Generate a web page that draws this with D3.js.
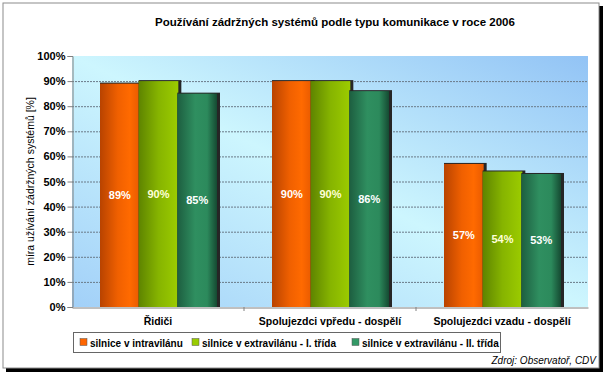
<!DOCTYPE html>
<html>
<head>
<meta charset="utf-8">
<script src="https://cdn.jsdelivr.net/npm/d3@7"></script>
<style>
  body { margin: 0; background: #fff; }
  svg text { font-family: "Liberation Sans", Arial, sans-serif; }
</style>
</head>
<body>
<div id="chart"></div>
<script>
// data
var categories = ["Řidiči", "Spolujezdci vpředu - dospělí", "Spolujezdci vzadu - dospělí"]
var seriesNames = ["silnice v intravilánu", "silnice v extravilánu - I. třída", "silnice v extravilánu - II. třída"]
var intravilan = [89, 90, 57]
var extravilan1 = [90, 90, 54]
var extravilan2 = [85, 86, 53]
var yTicks = [0, 10, 20, 30, 40, 50, 60, 70, 80, 90, 100]

var seriesValues = [intravilan, extravilan1, extravilan2]
var seriesKeys = ["orange", "green", "teal"]
var legendColors = ["#ff6600", "#99cc00", "#339966"]

var width = 604
var height = 375
var plot = { left: 72, right: 588, top: 56, bottom: 307 }

var svg = d3.select("#chart")
    .append("svg")
    .attr("width", width)
    .attr("height", height)

var defs = svg.append("defs")

// plot background gradient
var bg = defs.append("linearGradient").attr("id", "bg")
    .attr("x1", 0).attr("y1", 1).attr("x2", 1).attr("y2", 0)
bg.append("stop").attr("offset", 0).attr("stop-color", "#a2d0f8")
bg.append("stop").attr("offset", 0.5).attr("stop-color", "#cdf6fe")
bg.append("stop").attr("offset", 1).attr("stop-color", "#92c3f5")

// bar gradients
function barGradient(id, stops) {
    var g = defs.append("linearGradient").attr("id", id)
        .attr("x1", 0).attr("y1", 0).attr("x2", 1).attr("y2", 0)
    stops.forEach(function (s) {
        g.append("stop").attr("offset", s[0]).attr("stop-color", s[1])
    })
}
barGradient("orange", [[0, "#b84300"], [0.45, "#f06000"], [0.75, "#ff6a00"], [1, "#e85a00"]])
barGradient("green", [[0, "#5e8400"], [0.5, "#86b400"], [1, "#9ccc00"]])
barGradient("teal", [[0, "#1d5e40"], [0.45, "#2f8f60"], [0.75, "#2c8a5c"], [1, "#154a32"]])

// outer frame with shadow
svg.append("rect").attr("x", 6).attr("y", 6).attr("width", 597).attr("height", 366).attr("fill", "#000")
svg.append("rect").attr("x", 3).attr("y", 3).attr("width", 596).attr("height", 365)
    .attr("fill", "#fff").attr("stroke", "#8c8c8c").attr("stroke-width", 1)

// scales
var y = d3.scaleLinear().domain([0, 100]).range([plot.bottom, plot.top])
var x0 = d3.scaleBand().domain(categories).range([plot.left, plot.right])
var x1 = d3.scaleBand().domain(d3.range(3)).range([28, 144]).padding(0)

// plot area
svg.append("rect")
    .attr("x", plot.left).attr("y", plot.top)
    .attr("width", plot.right - plot.left).attr("height", plot.bottom - plot.top)
    .attr("fill", "url(#bg)")

// gridlines
svg.append("g").selectAll("line")
    .data(yTicks.filter(function (d) { return d > 0 && d < 100 }))
    .enter().append("line")
    .attr("x1", plot.left).attr("x2", plot.right)
    .attr("y1", function (d) { return y(d) + 0.5 })
    .attr("y2", function (d) { return y(d) + 0.5 })
    .attr("stroke", "#6a7a88").attr("stroke-dasharray", "2,1").attr("stroke-width", 1)

// y axis
var yAxis = svg.append("g")
    .attr("transform", "translate(" + (plot.left + 0.5) + ",0)")
    .call(d3.axisLeft(y).tickValues(yTicks).tickSize(5).tickPadding(2).tickFormat(function (d) { return d + "%" }))
yAxis.select(".domain").attr("stroke", "#808080")
yAxis.selectAll(".tick line").attr("stroke", "#808080")
yAxis.selectAll("text").attr("font-size", "11px").attr("font-weight", "bold").attr("fill", "#000")
    .style("font-family", "'Liberation Sans', Arial, sans-serif")

// x axis
var xAxis = svg.append("g")
    .attr("transform", "translate(0," + (plot.bottom + 0.5) + ")")
    .call(d3.axisBottom(x0).tickSize(0).tickPadding(10))
xAxis.select(".domain").attr("stroke", "#808080")
xAxis.selectAll("text").attr("font-size", "10.5px").attr("font-weight", "bold").attr("fill", "#000")
    .style("font-family", "'Liberation Sans', Arial, sans-serif")
// category separators
svg.append("g").selectAll("line")
    .data(categories.slice(0, 2))
    .enter().append("line")
    .attr("x1", function (d) { return x0(d) + x0.bandwidth() })
    .attr("x2", function (d) { return x0(d) + x0.bandwidth() })
    .attr("y1", plot.bottom).attr("y2", plot.bottom + 4)
    .attr("stroke", "#808080")

// bars
var barW = x1.step() + 4
seriesValues.forEach(function (vals, s) {
    var g = svg.append("g")
    var bars = g.selectAll("g").data(vals).enter().append("g")
        .attr("transform", function (d, i) { return "translate(" + (x0(categories[i]) + x1(s)) + ",0)" })
    // dark shadow edge
    bars.append("rect")
        .attr("x", 0).attr("y", function (d) { return y(d) - 1 })
        .attr("width", barW).attr("height", function (d) { return plot.bottom - y(d) + 1 })
        .attr("fill", "#262626")
    bars.append("rect")
        .attr("x", 0).attr("y", function (d) { return y(d) })
        .attr("width", barW - 3).attr("height", function (d) { return plot.bottom - y(d) })
        .attr("fill", "url(#" + seriesKeys[s] + ")")
    bars.append("text")
        .attr("x", (barW - 3) / 2)
        .attr("y", function (d) { return (y(d) + plot.bottom) / 2 + 4 })
        .attr("text-anchor", "middle")
        .attr("font-size", "11px").attr("font-weight", "bold")
        .attr("fill", s === 1 ? "#ffffd8" : "#fff")
        .text(function (d) { return d + "%" })
})

// title
svg.append("text")
    .attr("x", 335).attr("y", 26)
    .attr("text-anchor", "middle")
    .attr("font-size", "11.5px").attr("font-weight", "bold")
    .text("Používání zádržných systémů podle typu komunikace v roce 2006")

// y axis title
svg.append("text")
    .attr("transform", "translate(34," + ((plot.top + plot.bottom) / 2) + ") rotate(-90)")
    .attr("text-anchor", "middle")
    .attr("font-size", "10.5px")
    .text("míra užívání zádržných systémů [%]")

// legend
var legend = svg.append("g")
legend.append("rect")
    .attr("x", 73.5).attr("y", 332.5).attr("width", 427).attr("height", 20)
    .attr("fill", "#fff").attr("stroke", "#666")
var legendX = [80, 192, 352]
seriesNames.forEach(function (name, i) {
    legend.append("rect")
        .attr("x", legendX[i]).attr("y", 338.5).attr("width", 7).attr("height", 7)
        .attr("fill", legendColors[i]).attr("stroke", "#555").attr("stroke-width", 0.5)
    legend.append("text")
        .attr("x", legendX[i] + 10).attr("y", 346.5)
        .attr("font-size", "10px").attr("font-weight", "bold")
        .text(name)
})

// source
svg.append("text")
    .attr("x", 596).attr("y", 364)
    .attr("text-anchor", "end")
    .attr("font-size", "10px").attr("font-style", "italic")
    .text("Zdroj: Observatoř, CDV")
</script>
</body>
</html>
